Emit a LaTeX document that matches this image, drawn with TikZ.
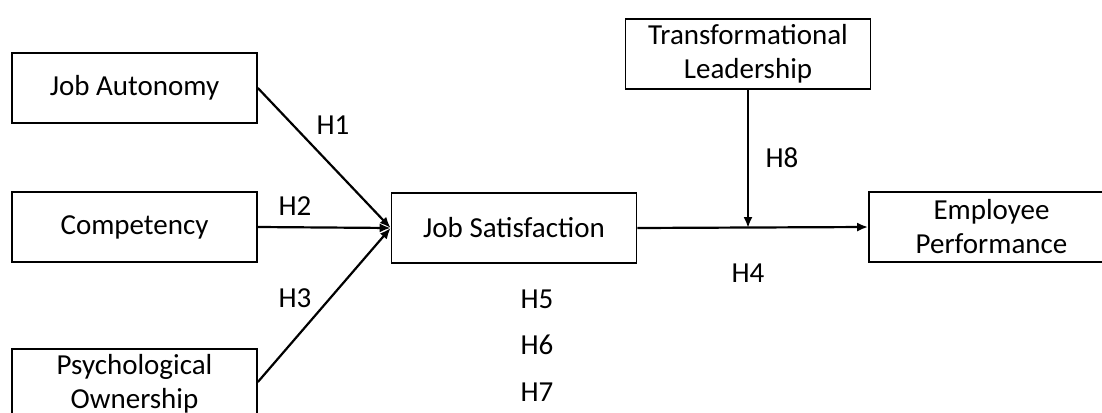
\documentclass[tikz,border=0pt]{standalone}
\usepackage{fontspec}
\setmainfont{Carlito}
\usetikzlibrary{arrows.meta}
\tikzset{
  box/.style={draw=black, line width=1.7pt, rectangle, minimum width=245pt, minimum height=70pt,
    inner sep=0pt, align=center, font=\fontsize{29}{34}\selectfont},
  lbl/.style={font=\fontsize{29}{34}\selectfont, inner sep=0pt},
  conn/.style={draw=black, line width=2.2pt, -{Latex[length=11pt,width=9pt]}}
}
\begin{document}
\begin{tikzpicture}[x=1pt,y=-1pt]
\useasboundingbox (0,0) rectangle (1102,412);
\clip (0,0) rectangle (1102,412);
\node[box] (ja) at (134.5,88) {Job Autonomy};
\node[box] (co) at (134.5,227) {Competency};
\node[box] (po) at (134.5,384) {Psychological\\Ownership};
\node[box] (js) at (514,228) {Job Satisfaction};
\node[box] (tl) at (748,54) {Transformational\\Leadership};
\node[box] (ep) at (991.5,227) {Employee\\Performance};
\coordinate (jsin) at (js.west);
\coordinate (mid) at (748,228);
\draw[conn] (ja.east) -- (jsin);
\draw[conn] (co.east) -- (jsin);
\draw[conn] (po.east |- 0,382) -- (jsin);
\draw[conn] (js.east) -- (ep.west);
\draw[conn] (tl.south) -- (mid);
\node[lbl] (h1) at (333,125) {H1};
\node[lbl] (h2) at (295,206) {H2};
\node[lbl] (h3) at (295,298) {H3};
\node[lbl] (h8) at (782,158) {H8};
\node[lbl] (h4) at (748,273) {H4};
\node[lbl] (h5) at (537,299) {H5};
\node[lbl] (h6) at (537,345) {H6};
\node[lbl] (h7) at (537,392) {H7};
\end{tikzpicture}
\end{document}
